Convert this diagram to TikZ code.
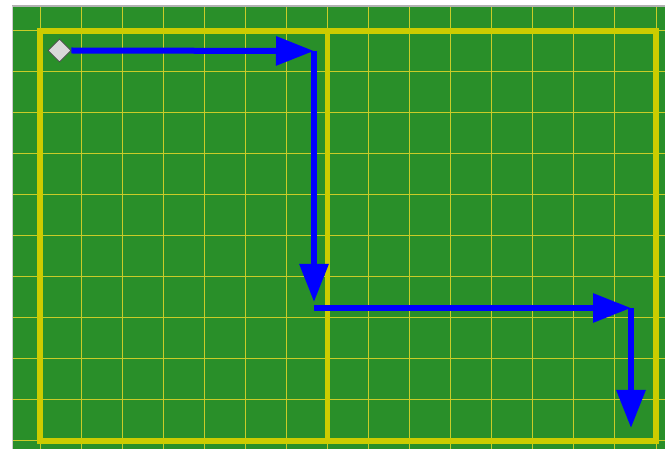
\documentclass[tikz,border=0pt]{standalone}
\usetikzlibrary{arrows.meta,shapes.geometric}
\definecolor{field}{RGB}{41,143,41}
\definecolor{gridline}{RGB}{200,204,40}
\definecolor{rim}{RGB}{204,204,0}
\definecolor{pathblue}{RGB}{0,0,255}
\tikzset{
  move/.style={draw=pathblue,line width=6pt,-{Triangle[length=38pt,width=28pt]}},
  start/.style={diamond,draw=black!70,fill=gray!30,minimum size=23pt,inner sep=0pt,line width=0.8pt},
}
\begin{document}
\begin{tikzpicture}[x=1pt,y=-1pt]
\useasboundingbox (0,0) rectangle (665,449);
\fill[white] (0,0) rectangle (665,449);
\fill[field] (12,6) rectangle (665,449);
% grid
\begin{scope}
\clip (12,6) rectangle (665,449);
\foreach \k in {-1,...,16} \draw[gridline,line width=1pt] ({40+41.07*\k},0) -- ({40+41.07*\k},449);
\foreach \k in {-1,...,11} \draw[gridline,line width=1pt] (0,{31+41*\k}) -- (665,{31+41*\k});
\end{scope}
\draw[rim,line width=5.5pt] (40,31) rectangle (656,441);
\draw[rim,line width=5.5pt] (327.5,31) -- (327.5,441);
\draw[gray!60,line width=1.5pt] (12,6) -- (665,6);
\draw[gray!40,line width=1pt] (12,6) -- (12,449);
% route
\node[start] (S) at (59.5,50.5) {};
\coordinate (C1) at (314,51);
\coordinate (C2) at (314,308);
\coordinate (C3) at (631,308);
\coordinate (G) at (631,428);
\draw[move] (S.east) -- (C1);
\draw[move,shorten >=6pt] (C1) -- (C2);
\draw[move] (C2) -- (C3);
\draw[move] (C3) -- (G);
\end{tikzpicture}
\end{document}
